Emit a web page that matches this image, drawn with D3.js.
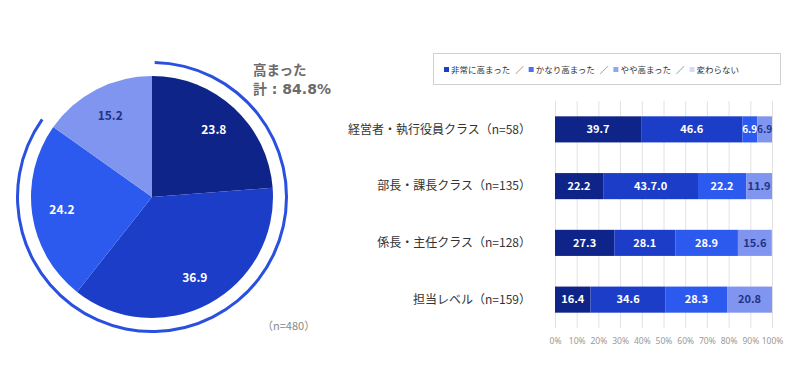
<!DOCTYPE html>
<html>
<head>
<meta charset="utf-8">
<script src="https://cdn.jsdelivr.net/npm/d3@7"></script>
<style>
  body { margin: 0; background: #fff; }
  svg { display: block; font-family: "Noto Sans CJK JP", "Noto Sans", sans-serif; }
</style>
</head>
<body>
<svg id="chart" width="800" height="383"></svg>
<script>
/* DATA */
const pieLabels = ["非常に高まった", "かなり高まった", "やや高まった", "変わらない"];
const pieValues = [23.8, 36.9, 24.2, 15.2];
const pieTotal = 84.8;
const pieN = 480;

const rowLabels = ["経営者・執行役員クラス（n=58）", "部長・課長クラス（n=135）", "係長・主任クラス（n=128）", "担当レベル（n=159）"];
const row1 = [39.7, 46.6, 6.9, 6.9];
const row2 = [22.2, 43.7, 22.2, 11.9];
const row3 = [27.3, 28.1, 28.9, 15.6];
const row4 = [16.4, 34.6, 28.3, 20.8];
const rowValueText = [
  ["39.7", "46.6", "6.9", "6.9"],
  ["22.2", "43.7.0", "22.2", "11.9"],
  ["27.3", "28.1", "28.9", "15.6"],
  ["16.4", "34.6", "28.3", "20.8"]
];
const ticks = [0, 10, 20, 30, 40, 50, 60, 70, 80, 90, 100];

const colors = ["#0f2488", "#1c3dc8", "#2c5aee", "#7f95ef"];
const textColors = ["#fff", "#fff", "#fff", "#1f3488"];
const legendColors = ["#1c3dc8", "#4a72ea", "#90a6f0", "#d3dbf7"];

const svg = d3.select("#chart");

/* PIE */
const cx = 152, cy = 197, R = 121;
const pieG = svg.append("g").attr("transform", `translate(${cx},${cy})`);
const pie = d3.pie().sort(null).value(d => d)(pieValues);
const arc = d3.arc().innerRadius(0).outerRadius(R);
const labelArc = d3.arc().innerRadius(91).outerRadius(91);

pieG.selectAll("path.slice")
  .data(pie)
  .enter()
  .append("path")
  .attr("class", "slice")
  .attr("d", arc)
  .attr("fill", (d, i) => colors[i]);

pieG.selectAll("text.val")
  .data(pie)
  .enter()
  .append("text")
  .attr("transform", d => `translate(${labelArc.centroid(d)})`)
  .attr("text-anchor", "middle")
  .attr("dy", "0.35em")
  .attr("font-size", 12)
  .attr("font-weight", "bold")
  .attr("fill", (d, i) => textColors[i])
  .text(d => d.data.toFixed(1));

// outer arc for 高まった 計
const ring = d3.arc().innerRadius(133).outerRadius(136)
  .startAngle(0.02).endAngle(2 * Math.PI * pieTotal / 100);
pieG.append("path").attr("d", ring()).attr("fill", "#2a50e0");

svg.append("text").attr("x", 253).attr("y", 75)
  .attr("font-size", 13.5).attr("font-weight", "bold").attr("fill", "#6b6b6b")
  .text("高まった");
svg.append("text").attr("x", 253).attr("y", 94)
  .attr("font-size", 14).attr("font-weight", "bold").attr("fill", "#6b6b6b")
  .attr("font-family", "\"DejaVu Sans\", \"Noto Sans CJK JP\", sans-serif")
  .text(`計 : ${pieTotal}%`);
svg.append("text").attr("x", 262).attr("y", 330)
  .attr("font-size", 11).attr("fill", "#888")
  .text(`（n=${pieN}）`);

/* LEGEND */
svg.append("rect").attr("x", 433.5).attr("y", 53.5).attr("width", 347).attr("height", 31)
  .attr("fill", "#fff").attr("stroke", "#d0d0d0");
const legendG = svg.append("g");
let lx = 444;
pieLabels.forEach((t, i) => {
  legendG.append("rect").attr("x", lx).attr("y", 67).attr("width", 5).attr("height", 5)
    .attr("fill", legendColors[i]);
  const txt = legendG.append("text").attr("x", lx + 7).attr("y", 73)
    .attr("font-size", 8.5).attr("fill", "#333")
    .text(t);
  lx += 7 + txt.node().getComputedTextLength() + 5;
  if (i < 3) {
    const sl = legendG.append("text").attr("x", lx).attr("y", 73)
      .attr("font-size", 8.5).attr("fill", "#333").text("／");
    lx += sl.node().getComputedTextLength() + 5;
  }
});

/* STACKED BARS */
const rows = [row1, row2, row3, row4];
const x = d3.scaleLinear().domain([0, 100]).range([555, 772]);
const y = d3.scaleBand().domain(rowLabels).range([101, 328]).paddingInner(0.54).paddingOuter(0.27);

svg.append("g").selectAll("line")
  .data(ticks)
  .enter()
  .append("line")
  .attr("x1", d => x(d) + 0.5).attr("x2", d => x(d) + 0.5)
  .attr("y1", 101).attr("y2", 328)
  .attr("stroke", "#e2e2e2");

const axis = svg.append("g")
  .attr("transform", "translate(0,328)")
  .call(d3.axisBottom(x).tickValues(ticks).tickSize(0).tickPadding(10).tickFormat(d => d + "%"));
axis.select(".domain").remove();
axis.selectAll("text").attr("font-size", 8.5).attr("fill", "#999")
  .attr("font-family", "\"Noto Sans\", sans-serif");

rows.forEach((vals, r) => {
  let acc = 0;
  const segs = vals.map((v, i) => { const s = { v, i, x0: acc, x1: acc + v }; acc += v; return s; });
  const g = svg.append("g");
  g.selectAll("rect")
    .data(segs)
    .enter()
    .append("rect")
    .attr("x", d => x(d.x0))
    .attr("y", y(rowLabels[r]))
    .attr("width", d => x(Math.min(d.x1, 100)) - x(d.x0))
    .attr("height", y.bandwidth())
    .attr("fill", d => colors[d.i]);
  g.selectAll("text")
    .data(segs)
    .enter()
    .append("text")
    .attr("x", d => (x(d.x0) + x(Math.min(d.x1, 100))) / 2)
    .attr("y", y(rowLabels[r]) + y.bandwidth() / 2)
    .attr("dy", "0.35em")
    .attr("text-anchor", "middle")
    .attr("font-size", d => (r === 0 && d.i >= 2) ? 10 : 11)
    .attr("font-weight", "bold")
    .attr("fill", d => textColors[d.i])
    .text(d => rowValueText[r][d.i]);
  svg.append("text")
    .attr("x", 531)
    .attr("y", y(rowLabels[r]) + y.bandwidth() / 2)
    .attr("dy", "0.35em")
    .attr("text-anchor", "end")
    .attr("font-size", 12)
    .attr("fill", "#333")
    .text(rowLabels[r]);
});
</script>
</body>
</html>
